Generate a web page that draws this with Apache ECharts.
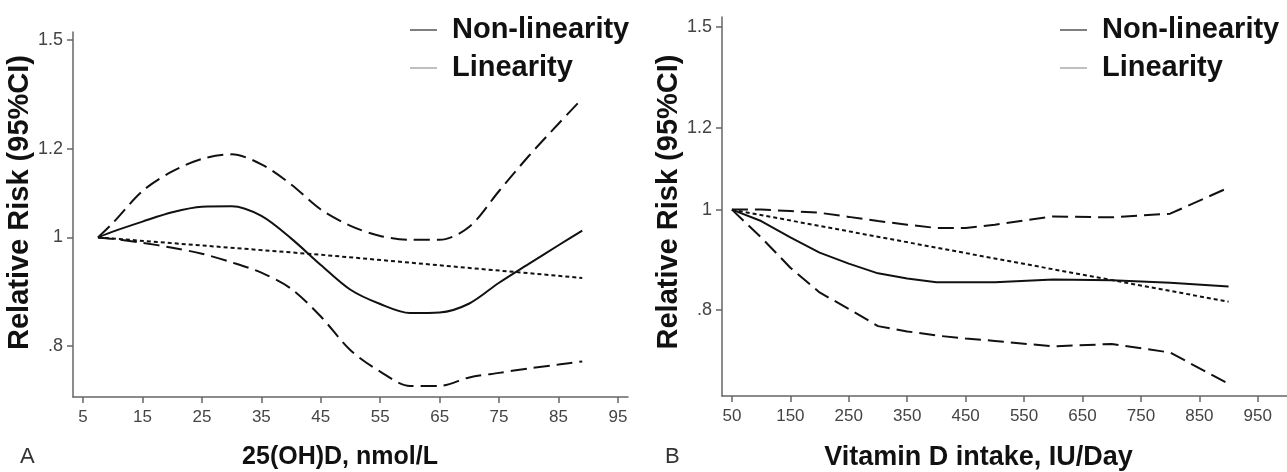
<!DOCTYPE html>
<html>
<head>
<meta charset="utf-8">
<script src="https://cdn.jsdelivr.net/npm/echarts@6/dist/echarts.min.js"></script>
<style>
  html, body { margin: 0; padding: 0; background: #fff; }
  #chart { width: 1287px; height: 472px; }
</style>
</head>
<body>
<div id="chart"></div>
<script>
// panel A: 25(OH)D, nmol/L
var xA = [7.5, 10, 15, 20, 25, 30, 35, 40, 45, 50, 55, 60, 65, 70, 75, 80, 85, 89];
var upperA = [1.0, 1.03, 1.10, 1.145, 1.175, 1.186, 1.162, 1.115, 1.059, 1.024, 1.003, 0.995, 0.995, 1.022, 1.10, 1.182, 1.263, 1.33];
var centralA = [1.0, 1.012, 1.033, 1.053, 1.065, 1.066, 1.045, 0.998, 0.945, 0.898, 0.872, 0.856, 0.857, 0.873, 0.911, 0.947, 0.984, 1.014];
var lowerA = [1.0, 0.997, 0.989, 0.979, 0.967, 0.950, 0.930, 0.900, 0.850, 0.793, 0.759, 0.737, 0.737, 0.750, 0.757, 0.764, 0.770, 0.775];
var linXA = [7.5, 45, 89];
var linA = [1.0, 0.965, 0.92];

// panel B: Vitamin D intake, IU/Day
var xB = [50, 100, 150, 200, 250, 300, 350, 400, 450, 500, 600, 700, 800, 900];
var upperB = [1.0, 1.0, 0.997, 0.993, 0.984, 0.975, 0.967, 0.960, 0.960, 0.967, 0.985, 0.983, 0.991, 1.05];
var centralB = [1.0, 0.975, 0.94, 0.909, 0.887, 0.868, 0.858, 0.851, 0.851, 0.851, 0.856, 0.855, 0.850, 0.843];
var lowerB = [1.0, 0.94, 0.879, 0.832, 0.802, 0.772, 0.763, 0.756, 0.751, 0.747, 0.738, 0.742, 0.728, 0.679];
var linXB = [50, 450, 900];
var linB = [1.0, 0.908, 0.815];

var xTicksA = [5, 15, 25, 35, 45, 55, 65, 75, 85, 95];
var xTicksB = [50, 150, 250, 350, 450, 550, 650, 750, 850, 950];
var yTicks = [0.8, 1, 1.2, 1.5];
var yTickLabels = ['.8', '1', '1.2', '1.5'];

var chart = echarts.init(document.getElementById('chart'));

function pts(xs, ys) {
  return xs.map(function (x, i) { return [x, Math.log(ys[i])]; });
}

var lnTicks = yTicks.map(function (v) { return Math.log(v); });
function yFmt(v) {
  for (var i = 0; i < lnTicks.length; i++) {
    if (Math.abs(lnTicks[i] - v) < 1e-6) return yTickLabels[i];
  }
  return '';
}

var axisColor = { color: '#666', width: 1.5 };
var nameFont = { fontFamily: 'Liberation Sans', fontWeight: 'bold', color: '#111' };

function xAxis(idx, min, max, ticks, name, size, pad) {
  return {
    type: 'value', gridIndex: idx, min: min, max: max,
    axisLine: { onZero: false, lineStyle: axisColor },
    axisTick: { length: 6, lineStyle: axisColor, customValues: ticks },
    axisLabel: { customValues: ticks, margin: 12, fontSize: 17, color: '#444', fontFamily: 'Liberation Sans' },
    splitLine: { show: false },
    name: name, nameLocation: 'middle', nameGap: 48,
    nameTextStyle: Object.assign({ fontSize: size, padding: [0, pad, 0, 0] }, nameFont)
  };
}

function yAxis(idx, min, max, pad, gap) {
  return {
    type: 'value', gridIndex: idx, min: Math.log(min), max: Math.log(max),
    axisLine: { show: true, onZero: false, lineStyle: axisColor },
    axisTick: { show: true, length: 6, lineStyle: axisColor, customValues: lnTicks },
    axisLabel: { customValues: lnTicks, formatter: yFmt, margin: 10, fontSize: 18, color: '#444', fontFamily: 'Liberation Sans' },
    splitLine: { show: false },
    name: 'Relative Risk (95%CI)', nameLocation: 'middle', nameRotate: 90, nameGap: gap,
    nameTextStyle: Object.assign({ fontSize: 29, padding: [0, 0, 0, pad] }, nameFont)
  };
}

function line(name, idx, data, type, smooth) {
  return {
    name: name, type: 'line', xAxisIndex: idx, yAxisIndex: idx,
    data: data, showSymbol: false, smooth: smooth, silent: true,
    lineStyle: { color: '#111', width: 2, type: type }
  };
}

function legend(left, top, name, color) {
  return {
    left: left, top: top, orient: 'vertical',
    data: [{ name: name, icon: 'rect', itemStyle: { color: color } }],
    itemWidth: 27, itemHeight: 1.5,
    selectedMode: false,
    textStyle: { fontSize: 29, fontWeight: 'bold', color: '#111', fontFamily: 'Liberation Sans', padding: [0, 0, 0, 10], lineHeight: 30 }
  };
}

var option = {
  animation: false,
  grid: [
    { left: 73, top: 32, width: 555, height: 365, outerBoundsMode: 'none' },
    { left: 722, top: 17, width: 565, height: 379, outerBoundsMode: 'none' }
  ],
  xAxis: [
    xAxis(0, 3.3, 96.7, xTicksA, '25(OH)D, nmol/L', 25, 21),
    xAxis(1, 33, 1000, xTicksB, 'Vitamin D intake, IU/Day', 27, 52)
  ],
  yAxis: [
    yAxis(0, 0.7204, 1.525, 24, 34),
    yAxis(1, 0.661, 1.534, 9, 33)
  ],
  legend: [
    legend(405, 10, 'Non-linearity', '#555'),
    legend(405, 48, 'Linearity', '#aaa'),
    legend(1055, 10, 'Non-linearity', '#555'),
    legend(1055, 48, 'Linearity', '#aaa')
  ],
  graphic: [
    { type: 'text', left: 20, top: 446, style: { text: 'A', fontSize: 22, fill: '#333', fontFamily: 'Liberation Sans' } },
    { type: 'text', left: 665, top: 446, style: { text: 'B', fontSize: 22, fill: '#333', fontFamily: 'Liberation Sans' } }
  ],
  series: [
    line('Non-linearity', 0, pts(xA, centralA), 'solid', 0.3),
    line('Upper CI', 0, pts(xA, upperA), [16, 7], 0.3),
    line('Lower CI', 0, pts(xA, lowerA), [16, 7], 0.3),
    line('Linearity', 0, pts(linXA, linA), [4, 3], false),
    line('Non-linearity', 1, pts(xB, centralB), 'solid', false),
    line('Upper CI', 1, pts(xB, upperB), [16, 7], false),
    line('Lower CI', 1, pts(xB, lowerB), [16, 7], false),
    line('Linearity', 1, pts(linXB, linB), [4, 3], false)
  ]
};

chart.setOption(option);
</script>
</body>
</html>
